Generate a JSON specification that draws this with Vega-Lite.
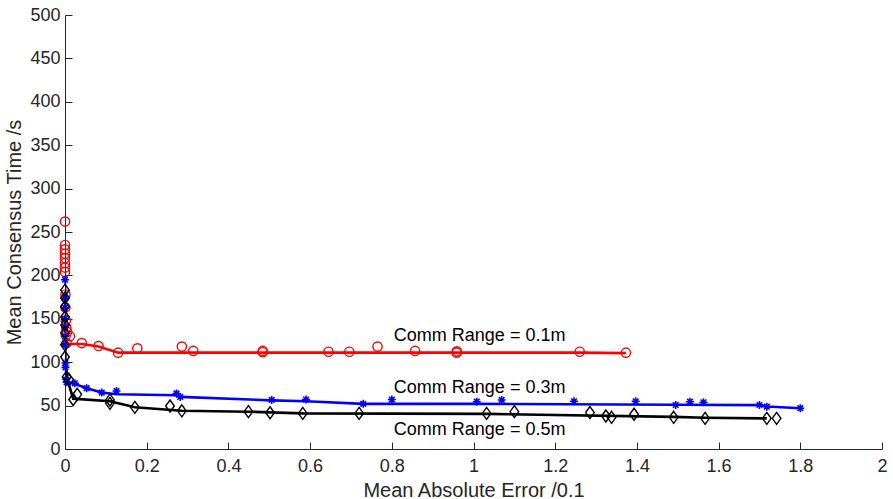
{
  "$schema": "https://vega.github.io/schema/vega-lite/v6.json",
  "autosize": {"type": "none"},
  "padding": {"left": 65, "top": 15, "right": 11, "bottom": 50},
  "width": 817,
  "height": 434,
  "background": "white",
  "config": {
    "view": {"stroke": null},
    "font": "Liberation Sans",
    "axis": {
      "grid": false,
      "domainColor": "#262626",
      "tickColor": "#262626",
      "labelColor": "#262626",
      "titleColor": "#262626",
      "labelFont": "Liberation Sans",
      "titleFont": "Liberation Sans",
      "labelFontSize": 18,
      "titleFontSize": 20,
      "titleFontWeight": "normal",
      "tickSize": -7,
      "domainWidth": 1,
      "tickWidth": 1
    }
  },
  "datasets": {
    "lines": [
      {"series": "0.1", "x": 0, "y": 128},
      {"series": "0.1", "x": 0.004, "y": 121},
      {"series": "0.1", "x": 0.041, "y": 121},
      {"series": "0.1", "x": 0.082, "y": 118},
      {"series": "0.1", "x": 0.13, "y": 111},
      {"series": "0.1", "x": 0.484, "y": 111},
      {"series": "0.1", "x": 0.959, "y": 111},
      {"series": "0.1", "x": 1.26, "y": 111},
      {"series": "0.1", "x": 1.373, "y": 110.5},
      {"series": "0.3", "x": 0, "y": 195},
      {"series": "0.3", "x": 0, "y": 120},
      {"series": "0.3", "x": 0.001, "y": 99},
      {"series": "0.3", "x": 0.004, "y": 77},
      {"series": "0.3", "x": 0.024, "y": 75},
      {"series": "0.3", "x": 0.053, "y": 70},
      {"series": "0.3", "x": 0.09, "y": 65},
      {"series": "0.3", "x": 0.126, "y": 63},
      {"series": "0.3", "x": 0.273, "y": 62},
      {"series": "0.3", "x": 0.282, "y": 60},
      {"series": "0.3", "x": 0.506, "y": 56},
      {"series": "0.3", "x": 0.59, "y": 55},
      {"series": "0.3", "x": 0.73, "y": 52},
      {"series": "0.3", "x": 1.0, "y": 52},
      {"series": "0.3", "x": 1.495, "y": 51},
      {"series": "0.3", "x": 1.70, "y": 50.5},
      {"series": "0.3", "x": 1.718, "y": 49},
      {"series": "0.3", "x": 1.80, "y": 47},
      {"series": "0.5", "x": 0, "y": 183},
      {"series": "0.5", "x": 0, "y": 106},
      {"series": "0.5", "x": 0.004, "y": 83},
      {"series": "0.5", "x": 0.02, "y": 58},
      {"series": "0.5", "x": 0.11, "y": 55},
      {"series": "0.5", "x": 0.171, "y": 48},
      {"series": "0.5", "x": 0.286, "y": 44},
      {"series": "0.5", "x": 0.449, "y": 43},
      {"series": "0.5", "x": 0.582, "y": 41},
      {"series": "0.5", "x": 1.032, "y": 40.5},
      {"series": "0.5", "x": 1.49, "y": 37},
      {"series": "0.5", "x": 1.567, "y": 36},
      {"series": "0.5", "x": 1.718, "y": 35.3}
    ],
    "points": [
      {"series": "0.1", "x": 0, "y": 262},
      {"series": "0.1", "x": 0, "y": 235},
      {"series": "0.1", "x": 0, "y": 230},
      {"series": "0.1", "x": 0, "y": 225},
      {"series": "0.1", "x": 0, "y": 220},
      {"series": "0.1", "x": 0, "y": 214},
      {"series": "0.1", "x": 0, "y": 209},
      {"series": "0.1", "x": 0, "y": 204},
      {"series": "0.1", "x": 0.001, "y": 178},
      {"series": "0.1", "x": 0.001, "y": 163},
      {"series": "0.1", "x": 0.002, "y": 148},
      {"series": "0.1", "x": 0.003, "y": 140},
      {"series": "0.1", "x": 0.005, "y": 135},
      {"series": "0.1", "x": 0.002, "y": 131},
      {"series": "0.1", "x": 0.012, "y": 130},
      {"series": "0.1", "x": 0.004, "y": 122},
      {"series": "0.1", "x": 0.041, "y": 122},
      {"series": "0.1", "x": 0.082, "y": 118.6},
      {"series": "0.1", "x": 0.13, "y": 111},
      {"series": "0.1", "x": 0.177, "y": 116},
      {"series": "0.1", "x": 0.286, "y": 118},
      {"series": "0.1", "x": 0.314, "y": 113},
      {"series": "0.1", "x": 0.484, "y": 113},
      {"series": "0.1", "x": 0.484, "y": 111.5},
      {"series": "0.1", "x": 0.645, "y": 112},
      {"series": "0.1", "x": 0.696, "y": 112},
      {"series": "0.1", "x": 0.765, "y": 118},
      {"series": "0.1", "x": 0.857, "y": 113},
      {"series": "0.1", "x": 0.959, "y": 112.5},
      {"series": "0.1", "x": 0.959, "y": 111},
      {"series": "0.1", "x": 1.26, "y": 112},
      {"series": "0.1", "x": 1.373, "y": 111},
      {"series": "0.3", "x": 0, "y": 195},
      {"series": "0.3", "x": 0, "y": 174},
      {"series": "0.3", "x": 0, "y": 163},
      {"series": "0.3", "x": 0, "y": 150},
      {"series": "0.3", "x": 0, "y": 140},
      {"series": "0.3", "x": 0, "y": 130},
      {"series": "0.3", "x": 0, "y": 120},
      {"series": "0.3", "x": 0.001, "y": 99},
      {"series": "0.3", "x": 0.001, "y": 94},
      {"series": "0.3", "x": 0.003, "y": 80},
      {"series": "0.3", "x": 0.004, "y": 77},
      {"series": "0.3", "x": 0.024, "y": 75.7},
      {"series": "0.3", "x": 0.053, "y": 70},
      {"series": "0.3", "x": 0.09, "y": 65},
      {"series": "0.3", "x": 0.126, "y": 66.8},
      {"series": "0.3", "x": 0.273, "y": 64},
      {"series": "0.3", "x": 0.282, "y": 60},
      {"series": "0.3", "x": 0.506, "y": 56.5},
      {"series": "0.3", "x": 0.59, "y": 57},
      {"series": "0.3", "x": 0.73, "y": 52},
      {"series": "0.3", "x": 0.80, "y": 57},
      {"series": "0.3", "x": 1.008, "y": 54.5},
      {"series": "0.3", "x": 1.069, "y": 56.5},
      {"series": "0.3", "x": 1.246, "y": 55},
      {"series": "0.3", "x": 1.397, "y": 55},
      {"series": "0.3", "x": 1.495, "y": 50.7},
      {"series": "0.3", "x": 1.53, "y": 54.5},
      {"series": "0.3", "x": 1.563, "y": 53.8},
      {"series": "0.3", "x": 1.70, "y": 50.7},
      {"series": "0.3", "x": 1.718, "y": 48.7},
      {"series": "0.3", "x": 1.80, "y": 47},
      {"series": "0.5", "x": 0, "y": 183},
      {"series": "0.5", "x": 0, "y": 174},
      {"series": "0.5", "x": 0, "y": 164},
      {"series": "0.5", "x": 0, "y": 152},
      {"series": "0.5", "x": 0, "y": 143},
      {"series": "0.5", "x": 0, "y": 134},
      {"series": "0.5", "x": 0, "y": 120},
      {"series": "0.5", "x": 0, "y": 106},
      {"series": "0.5", "x": 0.004, "y": 83},
      {"series": "0.5", "x": 0.01, "y": 80},
      {"series": "0.5", "x": 0.02, "y": 57},
      {"series": "0.5", "x": 0.03, "y": 63},
      {"series": "0.5", "x": 0.11, "y": 56.5},
      {"series": "0.5", "x": 0.11, "y": 52.6},
      {"series": "0.5", "x": 0.171, "y": 48},
      {"series": "0.5", "x": 0.257, "y": 49.5},
      {"series": "0.5", "x": 0.286, "y": 44},
      {"series": "0.5", "x": 0.449, "y": 43},
      {"series": "0.5", "x": 0.502, "y": 41.8},
      {"series": "0.5", "x": 0.582, "y": 41},
      {"series": "0.5", "x": 0.72, "y": 41},
      {"series": "0.5", "x": 1.032, "y": 41},
      {"series": "0.5", "x": 1.10, "y": 43},
      {"series": "0.5", "x": 1.285, "y": 42},
      {"series": "0.5", "x": 1.324, "y": 38},
      {"series": "0.5", "x": 1.338, "y": 36.5},
      {"series": "0.5", "x": 1.393, "y": 40},
      {"series": "0.5", "x": 1.49, "y": 36.5},
      {"series": "0.5", "x": 1.567, "y": 35.3},
      {"series": "0.5", "x": 1.718, "y": 35.3},
      {"series": "0.5", "x": 1.742, "y": 35.3}
    ],
    "labels": [
      {"x": 0.805, "y": 130, "label": "Comm Range = 0.1m"},
      {"x": 0.805, "y": 70.5, "label": "Comm Range = 0.3m"},
      {"x": 0.805, "y": 21.5, "label": "Comm Range = 0.5m"}
    ]
  },
  "layer": [
    {
      "data": {"name": "lines"},
      "mark": {"type": "line", "strokeWidth": 2.6, "clip": true},
      "encoding": {
        "x": {"field": "x", "type": "quantitative", "scale": {"domain": [0, 2], "nice": false, "zero": false},
              "axis": {"title": "Mean Absolute Error /0.1", "values": [0, 0.2, 0.4, 0.6, 0.8, 1, 1.2, 1.4, 1.6, 1.8, 2], "format": "~g", "labelPadding": 15, "titlePadding": 5, "labelFlush": false}},
        "y": {"field": "y", "type": "quantitative", "scale": {"domain": [0, 500], "nice": false},
              "axis": {"title": "Mean Consensus Time /s", "values": [0, 50, 100, 150, 200, 250, 300, 350, 400, 450, 500], "format": "d", "labelPadding": 12, "titlePadding": 5}},
        "color": {"field": "series", "type": "nominal", "scale": {"domain": ["0.1", "0.3", "0.5"], "range": ["#ff0000", "#0000ff", "#000000"]}, "legend": null},
        "order": {"field": "y", "type": "quantitative", "sort": "descending"}
      }
    },
    {
      "data": {"name": "points"},
      "transform": [{"filter": "datum.series == '0.1'"}],
      "mark": {"type": "point", "shape": "circle", "size": 85, "filled": false, "strokeWidth": 1.4, "opacity": 1, "color": "#ff0000"},
      "encoding": {
        "x": {"field": "x", "type": "quantitative"},
        "y": {"field": "y", "type": "quantitative"}
      }
    },
    {
      "data": {"name": "points"},
      "transform": [{"filter": "datum.series == '0.3'"}],
      "mark": {"type": "point", "shape": "M-1,0L1,0M0,-1L0,1M-0.7,-0.7L0.7,0.7M-0.7,0.7L0.7,-0.7", "size": 64, "filled": false, "strokeWidth": 1.6, "opacity": 1, "color": "#0000ff"},
      "encoding": {
        "x": {"field": "x", "type": "quantitative"},
        "y": {"field": "y", "type": "quantitative"}
      }
    },
    {
      "data": {"name": "points"},
      "transform": [{"filter": "datum.series == '0.5'"}],
      "mark": {"type": "point", "shape": "M0,-1L0.72,0L0,1L-0.72,0Z", "size": 144, "filled": false, "strokeWidth": 1.4, "opacity": 1, "color": "#000000"},
      "encoding": {
        "x": {"field": "x", "type": "quantitative"},
        "y": {"field": "y", "type": "quantitative"}
      }
    },
    {
      "data": {"name": "labels"},
      "mark": {"type": "text", "align": "left", "baseline": "middle", "fontSize": 18, "font": "Liberation Sans", "color": "#000000"},
      "encoding": {
        "x": {"field": "x", "type": "quantitative"},
        "y": {"field": "y", "type": "quantitative"},
        "text": {"field": "label"}
      }
    }
  ]
}
